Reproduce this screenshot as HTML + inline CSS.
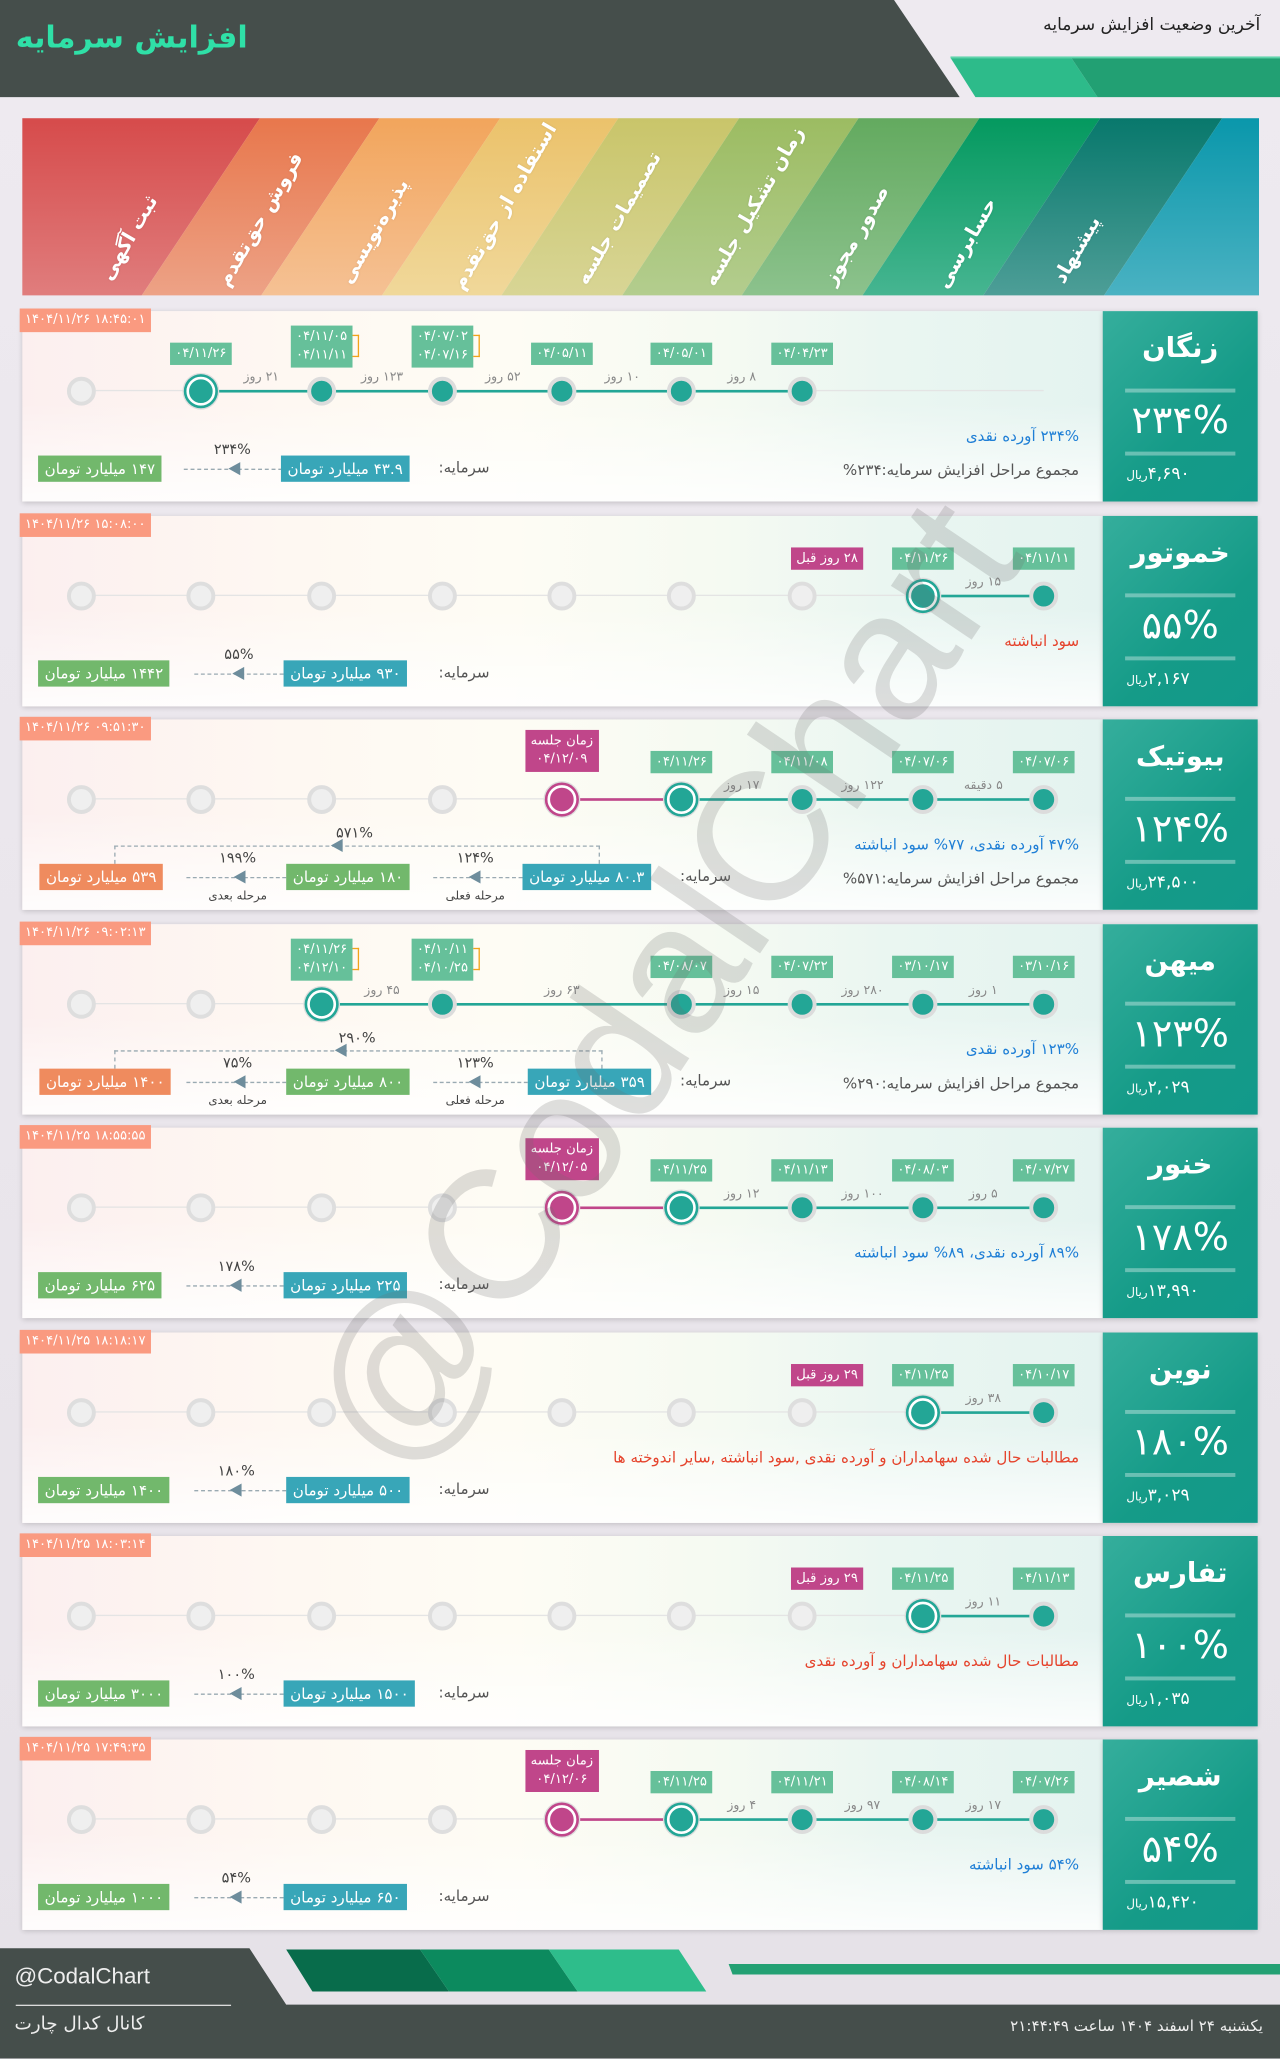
<!DOCTYPE html>
<html><head><meta charset="utf-8">
<style>
*{margin:0;padding:0;box-sizing:border-box}
html,body{width:1280px;height:2058px;overflow:hidden;background:#ebe7ed}
#w{position:absolute;left:0;top:0;width:975px;height:1568px;transform:scale(1.31282);transform-origin:0 0;font-family:"DejaVu Sans","Liberation Sans",sans-serif;background:linear-gradient(#eeeaf0,#e6e2e8)}
.abs{position:absolute}
.row{position:absolute;left:0;width:975px;height:145px}
.bg{position:absolute;left:17px;top:0;width:823px;height:145px;background:linear-gradient(to right,#fcefef,#fef8f2 25%,#fefcf4 45%,#f5faf2 65%,#eaf6f1 80%,#e4f3f0);box-shadow:0 1px 4px rgba(0,0,0,.18)}
.bg:after{content:"";position:absolute;left:0;right:0;bottom:0;height:75px;background:linear-gradient(rgba(255,255,255,0),rgba(255,255,255,.85))}
.rp{position:absolute;left:840px;top:0;width:118px;height:145px;background:linear-gradient(135deg,#35ae9c,#159b88 60%,#12998a);box-shadow:0 1px 4px rgba(0,0,0,.18)}
.nm{position:absolute;left:840px;width:118px;top:16px;text-align:center;color:#fff;font-weight:bold;font-size:21px;direction:rtl}
.ln{position:absolute;left:857px;width:84px;height:3px;background:rgba(255,255,255,.35)}
.pt{position:absolute;left:840px;width:118px;top:66px;text-align:center;color:#fff;font-size:29px;direction:rtl}
.pr{position:absolute;left:858px;top:117px;color:#fff;font-size:13px;direction:rtl}
.pr small{font-size:9px}
.ts{position:absolute;left:15px;top:-2px;height:18px;padding:0 4px;background:#fa9a80;color:#fff;font-size:10px;line-height:18px;white-space:nowrap}
.gl{position:absolute;left:62px;width:733px;top:60px;height:1px;background:#e4e4e4}
.tl{position:absolute;top:60px;height:2px;background:#23a696}
.pl{position:absolute;top:60px;height:2px;background:#c0468a}
.c{position:absolute;top:50px;width:22px;height:22px;margin-left:-11px;border-radius:50%}
.g{background:#efefef;border:3px solid #dedede}
.f{background:#23a696;border:3px solid #dcdcdc}
.a{background:#23a696;border:2px solid #fff;box-shadow:0 0 0 2px #23a696,0 0 0 3px #ddd}
.p{background:#c0468a;border:2px solid #fff;box-shadow:0 0 0 2px #c0468a,0 0 0 3px #ddd}
.d{position:absolute;top:24px;transform:translateX(-50%);background:#66c09a;color:#fff;font-size:10px;line-height:17px;padding:0 4px;white-space:nowrap;text-align:center}
.d2{top:11px;line-height:14px;padding:2px 4px}
.d2:after{content:"";position:absolute;right:-5px;top:7px;width:4px;height:15px;border:1px solid #f2a31a;border-left:none}
.pk{background:#c0468a;top:8px;line-height:14px;padding:2px 4px}
.pk1{position:absolute;top:24px;transform:translateX(-50%);background:#c0468a;color:#fff;font-size:10px;line-height:17px;padding:0 4px;white-space:nowrap;direction:rtl}
.dl{position:absolute;top:45px;transform:translateX(-50%);font-size:9.5px;color:#888;white-space:nowrap;direction:rtl}
.bl{position:absolute;right:153px;top:88px;font-size:11.5px;color:#1f7fd6;direction:rtl;white-space:nowrap}
.rd{position:absolute;right:153px;top:88px;font-size:11.5px;color:#e5432c;direction:rtl;white-space:nowrap}
.gy{position:absolute;right:153px;top:114px;font-size:11.5px;color:#555;direction:rtl;white-space:nowrap}
.bx{position:absolute;top:110px;height:20px;line-height:20px;color:#fff;font-size:11.5px;padding:0 5px;white-space:nowrap;direction:rtl}
.gr{background:#72b86c}.tq{background:#38a6b8}.or{background:#ef8b5e}
.sl{position:absolute;top:112px;font-size:11.5px;color:#555;direction:rtl;white-space:nowrap}
.dh{position:absolute;top:120px;height:1px;border-top:1px dashed #9aaab2}
.ah{position:absolute;top:115px;width:0;height:0;border-right:9px solid #6e8d9c;border-top:5px solid transparent;border-bottom:5px solid transparent}
.pc{position:absolute;top:99px;transform:translateX(-50%);font-size:11px;color:#444;direction:rtl}
.st{position:absolute;top:130px;transform:translateX(-50%);font-size:9px;color:#444;direction:rtl;white-space:nowrap}
.br{position:absolute;top:96px;height:14px;border:1px dashed #9aaab2;border-bottom:none}
.ah2{position:absolute;top:91px;width:0;height:0;border-right:9px solid #6e8d9c;border-top:5px solid transparent;border-bottom:5px solid transparent}
.pc2{position:absolute;top:80px;transform:translateX(-50%);font-size:11px;color:#444;direction:rtl}
.hl{position:absolute;color:#fff;font-weight:bold;font-size:15px;white-space:nowrap;transform:translate(-50%,-50%) rotate(-60deg);direction:rtl;text-shadow:0 0 2px rgba(0,0,0,.1)}
</style></head><body><div id="w">

<svg class="abs" style="left:0;top:0" width="975" height="75">
<polygon points="0,0 681,0 731,74 0,74" fill="#454e4b"/>
<polygon points="724,44 816,44 836,74 743,74" fill="#2dbb8a"/>
<polygon points="816,44 975,44 975,74 836,74" fill="#22a073"/>
<rect x="724" y="43" width="251" height="1.5" fill="#5fd3ab"/>
</svg>
<div class="abs" style="left:12px;top:16px;font-size:23px;font-weight:bold;color:#2fe0a7;direction:rtl">افزایش سرمایه</div>
<div class="abs" style="right:15px;top:12px;font-size:13px;color:#222;direction:rtl">آخرین وضعیت افزایش سرمایه</div>

<svg class="abs" style="left:0;top:90px" width="975" height="136">
<defs>
<linearGradient id="g0" x1="0" y1="0" x2="0" y2="1"><stop offset="0" stop-color="#d64b4b"/><stop offset="1" stop-color="#e07d7d"/></linearGradient>
<linearGradient id="g1" x1="0" y1="0" x2="0" y2="1"><stop offset="0" stop-color="#e8774c"/><stop offset="1" stop-color="#eda286"/></linearGradient>
<linearGradient id="g2" x1="0" y1="0" x2="0" y2="1"><stop offset="0" stop-color="#f2a55c"/><stop offset="1" stop-color="#f5c194"/></linearGradient>
<linearGradient id="g3" x1="0" y1="0" x2="0" y2="1"><stop offset="0" stop-color="#ebc26b"/><stop offset="1" stop-color="#f0d89a"/></linearGradient>
<linearGradient id="g4" x1="0" y1="0" x2="0" y2="1"><stop offset="0" stop-color="#c9c56a"/><stop offset="1" stop-color="#d8d595"/></linearGradient>
<linearGradient id="g5" x1="0" y1="0" x2="0" y2="1"><stop offset="0" stop-color="#9cbc62"/><stop offset="1" stop-color="#b3cd8e"/></linearGradient>
<linearGradient id="g6" x1="0" y1="0" x2="0" y2="1"><stop offset="0" stop-color="#63aa5f"/><stop offset="1" stop-color="#8cc28d"/></linearGradient>
<linearGradient id="g7" x1="0" y1="0" x2="0" y2="1"><stop offset="0" stop-color="#04995f"/><stop offset="1" stop-color="#46b591"/></linearGradient>
<linearGradient id="g8" x1="0" y1="0" x2="0" y2="1"><stop offset="0" stop-color="#08786c"/><stop offset="1" stop-color="#4d9e97"/></linearGradient>
<linearGradient id="g9" x1="0" y1="0" x2="0" y2="1"><stop offset="0" stop-color="#0a97ab"/><stop offset="1" stop-color="#4ab2c2"/></linearGradient>
</defs>
<polygon points="17,0 198,0 108,135 17,135" fill="url(#g0)"/>
<polygon points="198,0 289,0 199,135 108,135" fill="url(#g1)"/>
<polygon points="289,0 381,0 291,135 199,135" fill="url(#g2)"/>
<polygon points="381,0 471,0 382,135 291,135" fill="url(#g3)"/>
<polygon points="471,0 563,0 474,135 382,135" fill="url(#g4)"/>
<polygon points="563,0 654,0 565,135 474,135" fill="url(#g5)"/>
<polygon points="654,0 746,0 657,135 565,135" fill="url(#g6)"/>
<polygon points="746,0 838,0 749,135 657,135" fill="url(#g7)"/>
<polygon points="838,0 931,0 841,135 749,135" fill="url(#g8)"/>
<polygon points="931,0 959,0 959,135 841,135" fill="url(#g9)"/>
</svg>
<div class="hl" style="left:98px;top:181px">ثبت آگهی</div>
<div class="hl" style="left:198px;top:167px">فروش حق‌تقدم</div>
<div class="hl" style="left:285px;top:176px">پذیره‌نویسی</div>
<div class="hl" style="left:384px;top:157px">استفاده از حق‌تقدم</div>
<div class="hl" style="left:471px;top:166px">تصمیمات جلسه</div>
<div class="hl" style="left:574px;top:157px">زمان تشکیل جلسه</div>
<div class="hl" style="left:652px;top:179px">صدور مجوز</div>
<div class="hl" style="left:736px;top:185px">حسابرسی</div>
<div class="hl" style="left:820px;top:190px">پیشنهاد</div>

<div class="row" style="top:237px">
<div class="bg"></div><div class="rp"></div>
<div class="ts">۱۴۰۴/۱۱/۲۶ ۱۸:۴۵:۰۱</div>
<div class="gl"></div><div class="tl" style="left:153px;width:458px"></div>
<div class="c g" style="left:62px"></div><div class="c a" style="left:153px"></div><div class="c f" style="left:245px"></div><div class="c f" style="left:337px"></div><div class="c f" style="left:428px"></div><div class="c f" style="left:519px"></div><div class="c f" style="left:611px"></div>
<div class="d" style="left:153px">۰۴/۱۱/۲۶</div>
<div class="d d2" style="left:245px">۰۴/۱۱/۰۵<br>۰۴/۱۱/۱۱</div>
<div class="d d2" style="left:337px">۰۴/۰۷/۰۲<br>۰۴/۰۷/۱۶</div>
<div class="d" style="left:428px">۰۴/۰۵/۱۱</div>
<div class="d" style="left:519px">۰۴/۰۵/۰۱</div>
<div class="d" style="left:611px">۰۴/۰۴/۲۳</div>
<div class="dl" style="left:199px">۲۱ روز</div><div class="dl" style="left:291px">۱۲۳ روز</div><div class="dl" style="left:383px">۵۲ روز</div><div class="dl" style="left:474px">۱۰ روز</div><div class="dl" style="left:565px">۸ روز</div>
<div class="bl">۲۳۴% آورده نقدی</div>
<div class="gy">مجموع مراحل افزایش سرمایه:۲۳۴%</div>
<div class="bx gr" style="left:29px">۱۴۷ میلیارد تومان</div>
<div class="dh" style="left:140px;width:75px"></div><div class="ah" style="left:174px"></div>
<div class="pc" style="left:177px">۲۳۴%</div>
<div class="bx tq" style="left:214px">۴۳.۹ میلیارد تومان</div>
<div class="sl" style="left:334px">سرمایه:</div>
<div class="nm">زنگان</div><div class="ln" style="top:59px"></div><div class="pt">۲۳۴%</div><div class="ln" style="top:107px"></div><div class="pr">۴,۶۹۰<small>ریال</small></div>
</div>

<div class="row" style="top:393px">
<div class="bg"></div><div class="rp"></div>
<div class="ts">۱۴۰۴/۱۱/۲۶ ۱۵:۰۸:۰۰</div>
<div class="gl"></div><div class="tl" style="left:703px;width:92px"></div>
<div class="c g" style="left:62px"></div><div class="c g" style="left:153px"></div><div class="c g" style="left:245px"></div><div class="c g" style="left:337px"></div><div class="c g" style="left:428px"></div><div class="c g" style="left:519px"></div><div class="c g" style="left:611px"></div><div class="c a" style="left:703px"></div><div class="c f" style="left:795px"></div>
<div class="pk1" style="left:630px">۲۸ روز قبل</div>
<div class="d" style="left:703px">۰۴/۱۱/۲۶</div>
<div class="d" style="left:795px">۰۴/۱۱/۱۱</div>
<div class="dl" style="left:749px">۱۵ روز</div>
<div class="rd">سود انباشته</div>
<div class="bx gr" style="left:29px">۱۴۴۲ میلیارد تومان</div>
<div class="dh" style="left:148px;width:68px"></div><div class="ah" style="left:177px"></div>
<div class="pc" style="left:182px">۵۵%</div>
<div class="bx tq" style="left:216px">۹۳۰ میلیارد تومان</div>
<div class="sl" style="left:334px">سرمایه:</div>
<div class="nm">خموتور</div><div class="ln" style="top:59px"></div><div class="pt">۵۵%</div><div class="ln" style="top:107px"></div><div class="pr">۲,۱۶۷<small>ریال</small></div>
</div>

<div class="row" style="top:548px">
<div class="bg"></div><div class="rp"></div>
<div class="ts">۱۴۰۴/۱۱/۲۶ ۰۹:۵۱:۳۰</div>
<div class="gl"></div><div class="pl" style="left:428px;width:91px"></div><div class="tl" style="left:519px;width:276px"></div>
<div class="c g" style="left:62px"></div><div class="c g" style="left:153px"></div><div class="c g" style="left:245px"></div><div class="c g" style="left:337px"></div><div class="c p" style="left:428px"></div><div class="c a" style="left:519px"></div><div class="c f" style="left:611px"></div><div class="c f" style="left:703px"></div><div class="c f" style="left:795px"></div>
<div class="d pk" style="left:428px">زمان جلسه<br>۰۴/۱۲/۰۹</div>
<div class="d" style="left:519px">۰۴/۱۱/۲۶</div>
<div class="d" style="left:611px">۰۴/۱۱/۰۸</div>
<div class="d" style="left:703px">۰۴/۰۷/۰۶</div>
<div class="d" style="left:795px">۰۴/۰۷/۰۶</div>
<div class="dl" style="left:565px">۱۷ روز</div><div class="dl" style="left:657px">۱۲۲ روز</div><div class="dl" style="left:749px">۵ دقیقه</div>
<div class="bl">۴۷% آورده نقدی، ۷۷% سود انباشته</div>
<div class="gy">مجموع مراحل افزایش سرمایه:۵۷۱%</div>
<div class="br" style="left:87px;width:370px"></div><div class="ah2" style="left:252px"></div><div class="pc2" style="left:270px">۵۷۱%</div>
<div class="bx or" style="left:30px">۵۳۹ میلیارد تومان</div>
<div class="dh" style="left:142px;width:76px"></div><div class="ah" style="left:178px"></div>
<div class="pc" style="left:181px">۱۹۹%</div><div class="st" style="left:181px">مرحله بعدی</div>
<div class="bx gr" style="left:218px">۱۸۰ میلیارد تومان</div>
<div class="dh" style="left:330px;width:68px"></div><div class="ah" style="left:357px"></div>
<div class="pc" style="left:362px">۱۲۴%</div><div class="st" style="left:362px">مرحله فعلی</div>
<div class="bx tq" style="left:398px">۸۰.۳ میلیارد تومان</div>
<div class="sl" style="left:518px">سرمایه:</div>
<div class="nm">بیوتیک</div><div class="ln" style="top:59px"></div><div class="pt">۱۲۴%</div><div class="ln" style="top:107px"></div><div class="pr">۲۴,۵۰۰<small>ریال</small></div>
</div>

<div class="row" style="top:704px">
<div class="bg"></div><div class="rp"></div>
<div class="ts">۱۴۰۴/۱۱/۲۶ ۰۹:۰۲:۱۳</div>
<div class="gl"></div><div class="tl" style="left:245px;width:550px"></div>
<div class="c g" style="left:62px"></div><div class="c g" style="left:153px"></div><div class="c a" style="left:245px"></div><div class="c f" style="left:337px"></div><div class="c f" style="left:519px"></div><div class="c f" style="left:611px"></div><div class="c f" style="left:703px"></div><div class="c f" style="left:795px"></div>
<div class="d d2" style="left:245px">۰۴/۱۱/۲۶<br>۰۴/۱۲/۱۰</div>
<div class="d d2" style="left:337px">۰۴/۱۰/۱۱<br>۰۴/۱۰/۲۵</div>
<div class="d" style="left:519px">۰۴/۰۸/۰۷</div>
<div class="d" style="left:611px">۰۴/۰۷/۲۲</div>
<div class="d" style="left:703px">۰۳/۱۰/۱۷</div>
<div class="d" style="left:795px">۰۳/۱۰/۱۶</div>
<div class="dl" style="left:291px">۴۵ روز</div><div class="dl" style="left:428px">۶۳ روز</div><div class="dl" style="left:565px">۱۵ روز</div><div class="dl" style="left:657px">۲۸۰ روز</div><div class="dl" style="left:749px">۱ روز</div>
<div class="bl">۱۲۳% آورده نقدی</div>
<div class="gy">مجموع مراحل افزایش سرمایه:۲۹۰%</div>
<div class="br" style="left:87px;width:372px"></div><div class="ah2" style="left:255px"></div><div class="pc2" style="left:272px">۲۹۰%</div>
<div class="bx or" style="left:30px">۱۴۰۰ میلیارد تومان</div>
<div class="dh" style="left:142px;width:76px"></div><div class="ah" style="left:178px"></div>
<div class="pc" style="left:181px">۷۵%</div><div class="st" style="left:181px">مرحله بعدی</div>
<div class="bx gr" style="left:218px">۸۰۰ میلیارد تومان</div>
<div class="dh" style="left:330px;width:72px"></div><div class="ah" style="left:357px"></div>
<div class="pc" style="left:362px">۱۲۳%</div><div class="st" style="left:362px">مرحله فعلی</div>
<div class="bx tq" style="left:402px">۳۵۹ میلیارد تومان</div>
<div class="sl" style="left:518px">سرمایه:</div>
<div class="nm">میهن</div><div class="ln" style="top:59px"></div><div class="pt">۱۲۳%</div><div class="ln" style="top:107px"></div><div class="pr">۲,۰۲۹<small>ریال</small></div>
</div>

<div class="row" style="top:859px">
<div class="bg"></div><div class="rp"></div>
<div class="ts">۱۴۰۴/۱۱/۲۵ ۱۸:۵۵:۵۵</div>
<div class="gl"></div><div class="pl" style="left:428px;width:91px"></div><div class="tl" style="left:519px;width:276px"></div>
<div class="c g" style="left:62px"></div><div class="c g" style="left:153px"></div><div class="c g" style="left:245px"></div><div class="c g" style="left:337px"></div><div class="c p" style="left:428px"></div><div class="c a" style="left:519px"></div><div class="c f" style="left:611px"></div><div class="c f" style="left:703px"></div><div class="c f" style="left:795px"></div>
<div class="d pk" style="left:428px">زمان جلسه<br>۰۴/۱۲/۰۵</div>
<div class="d" style="left:519px">۰۴/۱۱/۲۵</div>
<div class="d" style="left:611px">۰۴/۱۱/۱۳</div>
<div class="d" style="left:703px">۰۴/۰۸/۰۳</div>
<div class="d" style="left:795px">۰۴/۰۷/۲۷</div>
<div class="dl" style="left:565px">۱۲ روز</div><div class="dl" style="left:657px">۱۰۰ روز</div><div class="dl" style="left:749px">۵ روز</div>
<div class="bl">۸۹% آورده نقدی، ۸۹% سود انباشته</div>
<div class="bx gr" style="left:29px">۶۲۵ میلیارد تومان</div>
<div class="dh" style="left:142px;width:74px"></div><div class="ah" style="left:175px"></div>
<div class="pc" style="left:180px">۱۷۸%</div>
<div class="bx tq" style="left:216px">۲۲۵ میلیارد تومان</div>
<div class="sl" style="left:334px">سرمایه:</div>
<div class="nm">خنور</div><div class="ln" style="top:59px"></div><div class="pt">۱۷۸%</div><div class="ln" style="top:107px"></div><div class="pr">۱۳,۹۹۰<small>ریال</small></div>
</div>

<div class="row" style="top:1015px">
<div class="bg"></div><div class="rp"></div>
<div class="ts">۱۴۰۴/۱۱/۲۵ ۱۸:۱۸:۱۷</div>
<div class="gl"></div><div class="tl" style="left:703px;width:92px"></div>
<div class="c g" style="left:62px"></div><div class="c g" style="left:153px"></div><div class="c g" style="left:245px"></div><div class="c g" style="left:337px"></div><div class="c g" style="left:428px"></div><div class="c g" style="left:519px"></div><div class="c g" style="left:611px"></div><div class="c a" style="left:703px"></div><div class="c f" style="left:795px"></div>
<div class="pk1" style="left:630px">۲۹ روز قبل</div>
<div class="d" style="left:703px">۰۴/۱۱/۲۵</div>
<div class="d" style="left:795px">۰۴/۱۰/۱۷</div>
<div class="dl" style="left:749px">۳۸ روز</div>
<div class="rd">مطالبات حال شده سهامداران و آورده نقدی ,سود انباشته ,سایر اندوخته ها</div>
<div class="bx gr" style="left:29px">۱۴۰۰ میلیارد تومان</div>
<div class="dh" style="left:148px;width:70px"></div><div class="ah" style="left:175px"></div>
<div class="pc" style="left:180px">۱۸۰%</div>
<div class="bx tq" style="left:218px">۵۰۰ میلیارد تومان</div>
<div class="sl" style="left:334px">سرمایه:</div>
<div class="nm">نوین</div><div class="ln" style="top:59px"></div><div class="pt">۱۸۰%</div><div class="ln" style="top:107px"></div><div class="pr">۳,۰۲۹<small>ریال</small></div>
</div>

<div class="row" style="top:1170px">
<div class="bg"></div><div class="rp"></div>
<div class="ts">۱۴۰۴/۱۱/۲۵ ۱۸:۰۳:۱۴</div>
<div class="gl"></div><div class="tl" style="left:703px;width:92px"></div>
<div class="c g" style="left:62px"></div><div class="c g" style="left:153px"></div><div class="c g" style="left:245px"></div><div class="c g" style="left:337px"></div><div class="c g" style="left:428px"></div><div class="c g" style="left:519px"></div><div class="c g" style="left:611px"></div><div class="c a" style="left:703px"></div><div class="c f" style="left:795px"></div>
<div class="pk1" style="left:630px">۲۹ روز قبل</div>
<div class="d" style="left:703px">۰۴/۱۱/۲۵</div>
<div class="d" style="left:795px">۰۴/۱۱/۱۳</div>
<div class="dl" style="left:749px">۱۱ روز</div>
<div class="rd">مطالبات حال شده سهامداران و آورده نقدی</div>
<div class="bx gr" style="left:29px">۳۰۰۰ میلیارد تومان</div>
<div class="dh" style="left:148px;width:68px"></div><div class="ah" style="left:175px"></div>
<div class="pc" style="left:180px">۱۰۰%</div>
<div class="bx tq" style="left:216px">۱۵۰۰ میلیارد تومان</div>
<div class="sl" style="left:334px">سرمایه:</div>
<div class="nm">تفارس</div><div class="ln" style="top:59px"></div><div class="pt">۱۰۰%</div><div class="ln" style="top:107px"></div><div class="pr">۱,۰۳۵<small>ریال</small></div>
</div>

<div class="row" style="top:1325px">
<div class="bg"></div><div class="rp"></div>
<div class="ts">۱۴۰۴/۱۱/۲۵ ۱۷:۴۹:۳۵</div>
<div class="gl"></div><div class="pl" style="left:428px;width:91px"></div><div class="tl" style="left:519px;width:276px"></div>
<div class="c g" style="left:62px"></div><div class="c g" style="left:153px"></div><div class="c g" style="left:245px"></div><div class="c g" style="left:337px"></div><div class="c p" style="left:428px"></div><div class="c a" style="left:519px"></div><div class="c f" style="left:611px"></div><div class="c f" style="left:703px"></div><div class="c f" style="left:795px"></div>
<div class="d pk" style="left:428px">زمان جلسه<br>۰۴/۱۲/۰۶</div>
<div class="d" style="left:519px">۰۴/۱۱/۲۵</div>
<div class="d" style="left:611px">۰۴/۱۱/۲۱</div>
<div class="d" style="left:703px">۰۴/۰۸/۱۴</div>
<div class="d" style="left:795px">۰۴/۰۷/۲۶</div>
<div class="dl" style="left:565px">۴ روز</div><div class="dl" style="left:657px">۹۷ روز</div><div class="dl" style="left:749px">۱۷ روز</div>
<div class="bl">۵۴% سود انباشته</div>
<div class="bx gr" style="left:29px">۱۰۰۰ میلیارد تومان</div>
<div class="dh" style="left:148px;width:68px"></div><div class="ah" style="left:175px"></div>
<div class="pc" style="left:180px">۵۴%</div>
<div class="bx tq" style="left:216px">۶۵۰ میلیارد تومان</div>
<div class="sl" style="left:334px">سرمایه:</div>
<div class="nm">شصیر</div><div class="ln" style="top:59px"></div><div class="pt">۵۴%</div><div class="ln" style="top:107px"></div><div class="pr">۱۵,۴۲۰<small>ریال</small></div>
</div>

<div class="abs" style="left:505px;top:750px;transform:translate(-50%,-50%) rotate(-56deg);font-size:140px;color:rgba(110,110,110,.22);white-space:nowrap;font-family:'Liberation Sans',sans-serif">@CodalChart</div>

<svg class="abs" style="left:0;top:1483px" width="975" height="85">
<polygon points="0,1 190,1 218,44 975,44 975,85 0,85" fill="#454e4b"/>
<polygon points="218,2 320,2 342,34 238,34" fill="#086c4b"/>
<polygon points="320,2 418,2 440,34 342,34" fill="#0c8a5e"/>
<polygon points="418,2 517,2 538,34 440,34" fill="#2ebd8b"/>
<polygon points="555,13 975,13 975,21 558,21" fill="#23a073"/>
<rect x="12" y="44" width="164" height="1" fill="#ddd"/>
</svg>
<div class="abs" style="left:11px;top:1496px;font-size:17px;color:#eee;font-family:'Liberation Sans',sans-serif">@CodalChart</div>
<div class="abs" style="left:11px;top:1534px;font-size:14px;color:#eee;direction:rtl">کانال کدال چارت</div>
<div class="abs" style="right:13px;top:1536px;font-size:11.5px;color:#eee;direction:rtl">یکشنبه ۲۴ اسفند ۱۴۰۴ ساعت ۲۱:۴۴:۴۹</div>

</div></body></html>
